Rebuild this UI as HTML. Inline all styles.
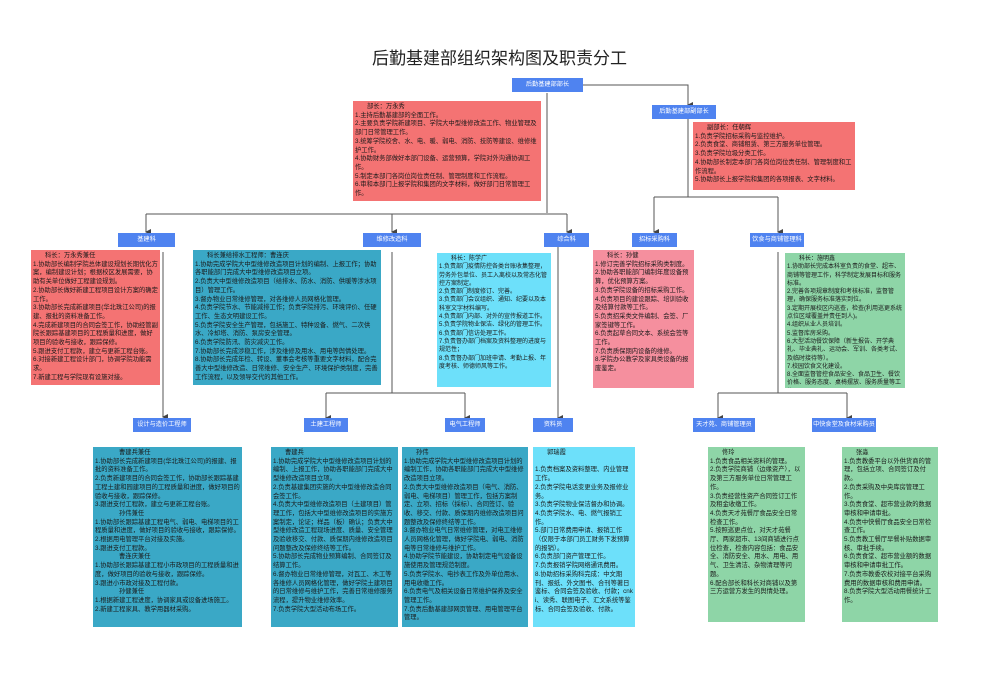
<!DOCTYPE html>
<html><head><meta charset="utf-8"><style>
*{margin:0;padding:0;box-sizing:border-box}
body{width:999px;height:688px;background:#fff;position:relative;overflow:hidden;font-family:"Liberation Sans","Noto Sans CJK SC",sans-serif}
.t{position:absolute;left:0;width:999px;top:44px;text-align:center;font-size:17px;color:#222}
.n{position:absolute;background:#4f83f0;color:#fff;font-size:6.2px;line-height:13px;height:14px;text-align:center;white-space:nowrap;overflow:hidden}
.b{position:absolute;font-size:6.3px;line-height:8.7px;color:#1a1a1a;padding:2px 2px;word-break:break-all;overflow:hidden}
.r{background:#f47373}.tl{background:#3aa8c6}.cy{background:#6de0fa}.pk{background:#f58f9e}.g{background:#8ed5a7}
.h{padding-left:12px}
svg{position:absolute;left:0;top:0}
</style></head><body>
<div class="t">后勤基建部组织架构图及职责分工</div>
<svg width="999" height="688">
<defs><marker id="a" markerWidth="6" markerHeight="6" refX="3" refY="5" orient="auto" markerUnits="userSpaceOnUse"><path d="M0,0 L6,0 L3,6z" fill="#444"/></marker></defs>
<g stroke="#555" stroke-width="1" fill="none">
<path d="M547,93 V213"/>
<path d="M146,214 H567"/>
<path d="M146,214 V232" marker-end="url(#a)"/>
<path d="M392,214 V232" marker-end="url(#a)"/>
<path d="M567,214 V232" marker-end="url(#a)"/>
<path d="M583,85 H688 V105" marker-end="url(#a)"/>
<path d="M688,118 V197"/>
<path d="M654,197 H778"/>
<path d="M654,197 V232" marker-end="url(#a)"/>
<path d="M778,197 V232" marker-end="url(#a)"/>
<path d="M163,252 V417" marker-end="url(#a)"/>
<path d="M392,252 V393"/>
<path d="M326,393 H465"/>
<path d="M326,393 V418" marker-end="url(#a)"/>
<path d="M465,393 V418" marker-end="url(#a)"/>
<path d="M558,247 V418" marker-end="url(#a)"/>
<path d="M778,252 V393"/>
<path d="M718,393 H847"/>
<path d="M718,393 V418" marker-end="url(#a)"/>
<path d="M847,393 V418" marker-end="url(#a)"/>
</g></svg>

<div class="n" style="left:512px;top:78px;width:71px">后勤基建部部长</div>
<div class="n" style="left:652px;top:105px;width:64px">后勤基建部副部长</div>
<div class="n" style="left:118px;top:233px;width:57px">基建科</div>
<div class="n" style="left:363px;top:233px;width:58px">维修改造科</div>
<div class="n" style="left:544px;top:233px;width:45px">综合科</div>
<div class="n" style="left:632px;top:233px;width:45px">招标采购科</div>
<div class="n" style="left:750px;top:233px;width:54px">饮食与商铺管理科</div>
<div class="n" style="left:133px;top:418px;width:58px">设计与造价工程师</div>
<div class="n" style="left:304px;top:418px;width:44px">土建工程师</div>
<div class="n" style="left:445px;top:418px;width:40px">电气工程师</div>
<div class="n" style="left:533px;top:418px;width:40px">资料员</div>
<div class="n" style="left:693px;top:418px;width:62px">天才苑、商铺管理员</div>
<div class="n" style="left:812px;top:418px;width:64px">中快食堂及食材采购员</div>

<div class="b r" style="left:353px;top:101px;width:188px;height:100px"><div class="h">部长：万永秀</div>1.主持后勤基建部的全面工作。<br>2.主要负责学院新建项目、学院大中型维修改造工作、物业管理及部门日常管理工作。<br>3.统筹学院校舍、水、电、暖、弱电、消防、技防等建设、维修维护工作。<br>4.协助财务部做好本部门设备、运营预算，学院对外沟通协调工作。<br>5.制定本部门各岗位岗位责任制、管理制度和工作流程。<br>6.审和本部门上报学院和集团的文字材料，做好部门日常管理工作。</div>

<div class="b r" style="left:693px;top:122px;width:162px;height:68px"><div class="h">副部长：任朝辉</div>1.负责学院招标采购与监控维护。<br>2.负责食堂、商铺租赁、第三方服务单位管理。<br>3.负责学院垃圾分类工作。<br>4.协助部长制定本部门各岗位岗位责任制、管理制度和工作流程。<br>5.协助部长上报学院和集团的各项报表、文字材料。</div>

<div class="b r" style="left:31px;top:250px;width:129px;height:135px"><div class="h">科长：万永秀兼任</div>1.协助部长编制学院总体建设规划长期优化方案，编制建设计划；根据校区发展需要，协助有关单位做好工程建设规划。<br>2.协助部长做好新建工程项目设计方案的确定工作。<br>3.协助部长完成新建项目(华北珠江公司)的报建、报批的资料准备工作。<br>4.完成新建项目的合同会签工作，协助经管副院长跟踪基建项目的工程质量和进度，做好项目的验收与接收，跟踪保修。<br>5.跟进支付工程款，建立与更新工程台账。<br>6.对接新建工程设计部门，协调学院功能需求。<br>7.新建工程与学院现有设施对接。</div>

<div class="b tl" style="left:193px;top:250px;width:188px;height:135px"><div class="h">科长兼给排水工程师：曹连庆</div>1.协助完成学院大中型维修改造项目计划的编制、上报工作；协助各职能部门完成大中型维修改造项目立项。<br>2.负责大中型维修改造项目（给排水、防水、消防、供暖等涉水项目）管理工作。<br>3.督办物业日常维修管理，对各维修人员网格化管理。<br>4.负责学院节水、节能减排工作；负责学院排污、环境评价、任硬工作、生态文明建设工作。<br>5.负责学院安全生产管理，包括施工、特种设备、燃气、二次供水、冷却塔、消防、泵房安全管理。<br>6.负责学院防汛、防灾减灾工作。<br>7.协助部长完成涉稳工作，涉及维修及用水、用电等舆情处理。<br>8.协助部长完成年检、转设、董事会考核等重要文字材料，配合完善大中型维修改造、日常维修、安全生产、环境保护类制度，完善工作流程，以及领导交代的其他工作。</div>

<div class="b cy" style="left:437px;top:253px;width:114px;height:134px;font-size:6px;line-height:8.3px"><div class="h">科长：陈学广</div>1.负责部门疫情防控各类台账收集整理，劳务外包单位、员工入离校以及常态化管控方案制定。<br>2.负责部门制度修订、完善。<br>3.负责部门会议组织、通知、纪要以及本科室文字材料编写。<br>4.负责部门内部、对外的宣传报道工作。<br>5.负责学院物业保洁、绿化的管理工作。<br>6.负责部门信访处理工作。<br>7.负责督办部门档案及资料整理的进度与规范性；<br>8.负责督办部门加班申请、考勤上报、年度考核、师德师风等工作。</div>

<div class="b pk" style="left:593px;top:250px;width:101px;height:138px"><div class="h">科长：孙健</div>1.修订完善学院招标采购类制度。<br>2.协助各职能部门编制年度设备预算，优化预算方案。<br>3.负责学院设备的招标采购工作。<br>4.负责项目的建设跟踪、培训验收及结算付款等工作。<br>5.负责招采类文件编制、会签、厂家签键等工作。<br>6.负责起草合同文本、系统会签等工作。<br>7.负责质保期内设备的维修。<br>8.学院办公教学及家具类设备的报废鉴定。</div>

<div class="b g" style="left:785px;top:253px;width:120px;height:135px;font-size:6px;line-height:8.3px"><div class="h">科长：施明鑫</div>1.协助部长完成本科室负责的食堂、超市、商铺等管理工作，科学制定发展目标和服务标准。<br>2.完善各项规章制度和考核标准，监督管理，确保服务标准落实到位。<br>3.定期开展校区内巡查，检查(利用巡更系统点位区域覆盖并责任到人)。<br>4.组织从业人员培训。<br>5.监督库房采购。<br>6.大型活动餐饮保障（新生报告、开学典礼、毕业典礼、运动会、军训、各类考试、及临时接待等）。<br>7.校园饮食文化建设。<br>8.全面监督管控食品安全、食品卫生、餐饮价格、服务态度、桌椅摆放、服务质量等工作。</div>

<div class="b tl" style="left:93px;top:447px;width:149px;height:180px"><div class="h" style="padding-left:24px">曹建兵兼任</div>1.协助部长完成新建项目(华北珠江公司)的报建、报批的资料准备工作。<br>2.负责新建项目的合同会签工作，协助部长跟踪基建工程土建和园建项目的工程质量和进度，做好项目的验收与接收，跟踪保修。<br>3.跟进支付工程款，建立与更新工程台账。<div style="padding-left:24px">孙伟兼任</div>1.协助部长跟踪基建工程电气、弱电、电梯项目的工程质量和进度，做好项目的验收与接收，跟踪保修。<br>2.根据用电管理平台对接及实施。<br>3.跟进支付工程款。<div style="padding-left:24px">曹连庆兼任</div>1.协助部长跟踪基建工程小市政项目的工程质量和进度，做好项目的验收与接收，跟踪保修。<br>3.跟进小市政对接及工程付款。<div style="padding-left:24px">孙健兼任</div>1.根据新建工程进度，协调家具或设备进场施工。<br>2.新建工程家具、教学用器材采购。</div>

<div class="b tl" style="left:271px;top:447px;width:127px;height:180px"><div class="h">曹建兵</div>1.协助完成学院大中型维修改造项目计划的编制、上报工作，协助各职能部门完成大中型维修改造项目立项。<br>2.负责基建集团实施的大中型维修改造合同会签工作。<br>4.负责大中型维修改造项目（土建项目）管理工作，包括大中型维修改造项目的实施方案制定，论证；样品（板）确认；负责大中型维修改造工程现场进度、质量、安全管理及验收移交、付款、质保期内维修改造项目问题整改及保修终结等工作。<br>5.协助部长完成物业预算编制、合同签订及结算工作。<br>6.督办物业日常维修管理，对瓦工、木工等各维修人员网格化管理，做好学院土建项目的日常维修与维护工作，完善日常维修服务流程，提升物业维修效率。<br>7.负责学院大型活动布场工作。</div>

<div class="b tl" style="left:402px;top:447px;width:126px;height:180px"><div class="h">孙伟</div>1.协助完成学院大中型维修改造项目计划的编制工作，协助各职能部门完成大中型维修改造项目立项。<br>2.负责大中型维修改造项目（电气、消防、弱电、电梯项目）管理工作，包括方案制定、立项、招标（採标）、合同签订、验收、移交、付款、质保期内维修改造项目问题整改及保修终结等工作。<br>3.督办物业电气日常维修管理，对电工维修人员网格化管理，做好学院电、弱电、消防电等日常维修与维护工作。<br>4.协助学院节能建设，协助制定电气设备设施使用及管理规范制度。<br>5.负责学院水、电抄表工作及外单位用水、用电收缴工作。<br>6.负责电气及相关设备日常维护保养及安全管理工作。<br>7.负责后勤基建部网页管理、用电管理平台管理。</div>

<div class="b cy" style="left:533px;top:447px;width:102px;height:180px"><div class="h">郭瑞霞</div><br>1.负责档案及资料整理、内业管理工作。<br>2.负责学院电话变更业务及报修业务。<br>3.负责学院物业保洁督办和协调。<br>4.负责学院水、电、燃气报销工作。<br>5.部门日常费用申请、报销工作（仅限于本部门员工财务下发预算的报销）。<br>6.负责部门资产管理工作。<br>7.负责报销学院网络通讯费用。<br>8.协助招标采购科完成：中文期刊、报纸、外文图书、合刊等著日鉴标、合同会签及验收、付款；cnki、读秀、联图电子、汇文系统等鉴标、合同会签及验收、付款。</div>

<div class="b g" style="left:708px;top:447px;width:97px;height:175px"><div class="h">佟玲</div>1.负责食品相关资料的管理。<br>2.负责学院商铺（边缘资产），以及第三方服务单位日常管理工作。<br>3.负责经营性资产合同签订工作及租金收缴工作。<br>4.负责天才苑餐厅食品安全日常检查工作。<br>5.按照巡更点位，对天才苑餐厅、两家超市、13间商铺进行点位检查，检查内容包括：食品安全、消防安全、用水、用电、用气、卫生清洁、杂物清理等问题。<br>6.配合部长和科长对商铺以及第三方运营方发生的舆情处理。</div>

<div class="b g" style="left:842px;top:447px;width:96px;height:175px"><div class="h">张淼</div>1.负责教委平台以外供货商的管理，包括立项、合同签订及付款。<br>2.负责采购及中央库房管理工作。<br>3.负责食堂、超市营业款的数据审核和申请审批。<br>4.负责中快餐厅食品安全日常检查工作。<br>5.负责教工餐厅早餐补贴数据审核、审批手续。<br>6.负责食堂、超市营业额的数据审核和申请审批工作。<br>7.负责市教委农校对接平台采购费用的数据审核和费用申请。<br>8.负责学院大型活动用餐统计工作。</div>
</body></html>
